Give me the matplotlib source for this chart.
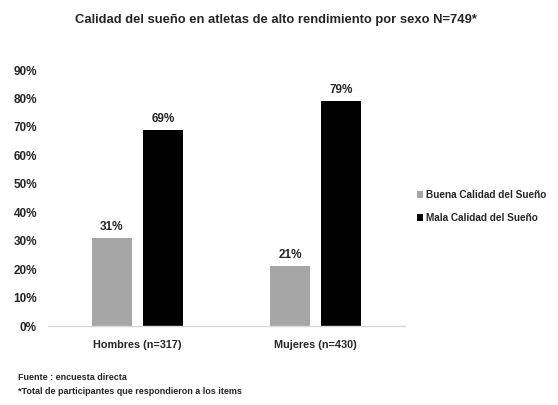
import numpy as np
import matplotlib.pyplot as plt

# data
categories = ['Hombres (n=317)', 'Mujeres (n=430)']
buena = [31, 21]
mala = [69, 79]
series_names = ['Buena Calidad del Sueño', 'Mala Calidad del Sueño']
yticks = [0, 10, 20, 30, 40, 50, 60, 70, 80, 90]

plt.rcParams['font.family'] = ['Liberation Sans', 'DejaVu Sans']
plt.rcParams['font.weight'] = 'bold'
txt = '#262626'

fig = plt.figure(figsize=(5.58, 4.05), dpi=100)
ax = fig.add_axes([0.086, 0.195, 0.640, 0.632])

x = np.arange(len(categories))
w = 0.223
off = 0.143
b1 = ax.bar(x - off, buena, w, color='#a6a6a6', label=series_names[0])
b2 = ax.bar(x + off, mala, w, color='#000000', label=series_names[1])

for bars, vals in [(b1, buena), (b2, mala)]:
    for r, v in zip(bars, vals):
        ax.text(r.get_x() + r.get_width() / 2, v + 1.8, f'{v}%', ha='center',
                va='bottom', fontsize=8.5, fontweight='bold', color=txt)

ax.set_xlim(-0.5, 1.5)
ax.set_ylim(0, 90)
ax.set_yticks(yticks)
ax.set_yticklabels([f'{t}%' for t in yticks], fontsize=8.5, fontweight='bold', color=txt)
ax.set_xticks(x)
ax.set_xticklabels(categories, fontsize=7.8, fontweight='bold', color=txt)
ax.tick_params(length=0, pad=8)
ax.tick_params(axis='x', pad=10)
for s in ['top', 'right', 'left']:
    ax.spines[s].set_visible(False)
ax.spines['bottom'].set_color('#d9d9d9')
ax.spines['bottom'].set_linewidth(1)

fig.text(0.495, 0.95, 'Calidad del sueño en atletas de alto rendimiento por sexo N=749*',
         ha='center', va='center', fontsize=9.4, fontweight='bold', color=txt)

ax.legend(loc='center left', bbox_to_anchor=(0.732, 0.49), bbox_transform=fig.transFigure,
          frameon=False, fontsize=7.2, handlelength=0.6, handleheight=0.6,
          handletextpad=0.3, labelspacing=1.3, labelcolor=txt)

fig.text(0.032, 0.068, 'Fuente : encuesta directa', fontsize=6.5, fontweight='bold',
         color=txt, va='center')
fig.text(0.032, 0.033, '*Total de participantes que respondieron a los items', fontsize=6.5,
         fontweight='bold', color=txt, va='center')

fig.savefig('out.png', dpi=100)
